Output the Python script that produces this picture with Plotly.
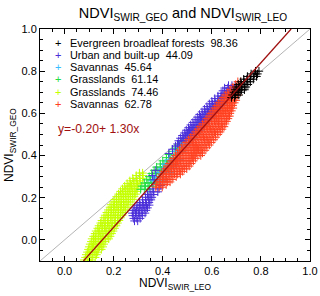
import plotly.graph_objects as go

# ---------------- data ----------------
series_names = [
    "Evergreen broadleaf forests\u00a0\u00a098.36",
    "Urban and built-up\u00a0\u00a044.09",
    "Savannas\u00a0\u00a045.64",
    "Grasslands\u00a0\u00a061.14",
    "Grasslands\u00a0\u00a074.46",
    "Savannas\u00a0\u00a062.78",
]
series_colors = ["#000000", "#4a2fd9", "#38bdff", "#22dd44", "#c4ff00", "#ff4020"]

fit_intercept = -0.20
fit_slope = 1.30

# each cloud: rows of (NDVI_GEO value, [NDVI_LEO values])
ebf_rows = [
    (0.675, [0.680, 0.693]),
    (0.687, [0.684, 0.697, 0.710]),
    (0.700, [0.690, 0.703, 0.716]),
    (0.712, [0.695, 0.708, 0.721, 0.733]),
    (0.725, [0.700, 0.713, 0.726, 0.739]),
    (0.737, [0.708, 0.721, 0.734, 0.747]),
    (0.750, [0.718, 0.731, 0.744, 0.757]),
    (0.762, [0.730, 0.743, 0.756, 0.769]),
    (0.775, [0.745, 0.758, 0.771, 0.782]),
    (0.787, [0.760, 0.773, 0.786]),
    (0.800, [0.778, 0.792]),
]

urb_rows = [
    # lower blob
    (0.090, [0.285, 0.298]),
    (0.102, [0.282, 0.295, 0.308]),
    (0.115, [0.278, 0.291, 0.304, 0.317]),
    (0.127, [0.276, 0.289, 0.302, 0.315, 0.328]),
    (0.140, [0.280, 0.293, 0.306, 0.319, 0.332]),
    (0.152, [0.286, 0.299, 0.312, 0.325, 0.338]),
    (0.165, [0.295, 0.308, 0.321, 0.334, 0.345]),
    (0.177, [0.305, 0.318, 0.331, 0.344]),
    (0.190, [0.318, 0.331, 0.344, 0.352]),
    (0.202, [0.330, 0.343, 0.356]),
    (0.215, [0.338, 0.352, 0.364]),
    (0.228, [0.348, 0.362, 0.380]),
    (0.242, [0.360, 0.385]),
    (0.258, [0.392]),
    # middle scatter
    (0.285, [0.365]),
    (0.305, [0.358]),
    (0.330, [0.372]),
    (0.410, [0.425]),
    (0.430, [0.440]),
    (0.445, [0.452, 0.468]),
    (0.455, [0.460]),
    # upper band
    (0.470, [0.465, 0.478, 0.491]),
    (0.482, [0.472, 0.485, 0.498, 0.511]),
    (0.495, [0.480, 0.493, 0.506, 0.519]),
    (0.507, [0.488, 0.501, 0.514, 0.527]),
    (0.520, [0.496, 0.509, 0.522, 0.535, 0.546]),
    (0.532, [0.505, 0.518, 0.531, 0.544, 0.555]),
    (0.545, [0.514, 0.527, 0.540, 0.553, 0.565]),
    (0.557, [0.523, 0.536, 0.549, 0.562, 0.574]),
    (0.570, [0.532, 0.545, 0.558, 0.571, 0.583]),
    (0.582, [0.541, 0.554, 0.567, 0.580, 0.593]),
    (0.595, [0.550, 0.563, 0.576, 0.589, 0.602]),
    (0.607, [0.560, 0.573, 0.586, 0.599, 0.611]),
    (0.620, [0.570, 0.583, 0.596, 0.609, 0.621]),
    (0.632, [0.580, 0.593, 0.606, 0.619, 0.630]),
    (0.645, [0.590, 0.603, 0.616, 0.629, 0.640]),
    (0.657, [0.600, 0.613, 0.626, 0.639, 0.650]),
    (0.670, [0.612, 0.625, 0.638, 0.651, 0.662]),
    (0.682, [0.625, 0.638, 0.651, 0.664]),
    (0.695, [0.638, 0.651, 0.664, 0.677]),
    (0.707, [0.645, 0.658, 0.671, 0.684]),
    (0.720, [0.652, 0.665, 0.678, 0.691]),
    (0.732, [0.668, 0.682, 0.695]),
]

sav1_rows = [
    (0.28, [0.36, 0.375, 0.39, 0.405]),
    (0.30, [0.37, 0.385, 0.40, 0.415]),
    (0.32, [0.385, 0.40, 0.415, 0.43]),
    (0.34, [0.40, 0.415, 0.43, 0.445]),
    (0.36, [0.41, 0.425, 0.44, 0.455]),
    (0.38, [0.425, 0.44, 0.455, 0.47]),
    (0.40, [0.44, 0.455, 0.47]),
    (0.42, [0.45, 0.465, 0.48]),
    (0.44, [0.465, 0.48, 0.495]),
    (0.46, [0.48, 0.495, 0.51]),
    (0.48, [0.495, 0.51, 0.525]),
    (0.50, [0.51, 0.525, 0.54]),
    (0.52, [0.525, 0.54, 0.555]),
    (0.54, [0.54, 0.555, 0.57]),
    (0.56, [0.555, 0.57, 0.585]),
    (0.58, [0.57, 0.585, 0.60]),
    (0.60, [0.585, 0.60, 0.615]),
    (0.62, [0.60, 0.615, 0.63]),
    (0.64, [0.615, 0.63, 0.645]),
    (0.66, [0.63, 0.645, 0.66]),
    (0.68, [0.645, 0.66, 0.675]),
    (0.70, [0.66, 0.675, 0.69]),
]

gl1_rows = [
    (0.240, [0.31, 0.325, 0.34]),
    (0.255, [0.315, 0.33, 0.345, 0.36]),
    (0.270, [0.325, 0.34, 0.355, 0.37]),
    (0.285, [0.335, 0.35, 0.365, 0.38]),
    (0.300, [0.345, 0.36, 0.375, 0.39]),
    (0.315, [0.355, 0.37, 0.385, 0.40]),
    (0.330, [0.365, 0.38, 0.395, 0.41]),
    (0.345, [0.375, 0.39, 0.405, 0.42]),
    (0.360, [0.39, 0.405, 0.42, 0.435]),
    (0.375, [0.40, 0.415, 0.43, 0.445]),
    (0.390, [0.415, 0.43, 0.445]),
    (0.405, [0.425, 0.44, 0.455]),
    (0.420, [0.44, 0.455, 0.47]),
    (0.435, [0.45, 0.465]),
    (0.450, [0.465, 0.48]),
    (0.465, [0.475]),
]

gl2_rows = [
    (-0.095, [0.080, 0.094, 0.108]),
    (-0.083, [0.085, 0.099, 0.113, 0.125]),
    (-0.070, [0.088, 0.102, 0.116, 0.130]),
    (-0.058, [0.093, 0.107, 0.121, 0.135]),
    (-0.045, [0.097, 0.111, 0.125, 0.139, 0.150]),
    (-0.033, [0.100, 0.114, 0.128, 0.142, 0.156]),
    (-0.020, [0.104, 0.118, 0.132, 0.146, 0.160]),
    (-0.008, [0.109, 0.123, 0.137, 0.151, 0.165]),
    (0.005, [0.112, 0.126, 0.140, 0.154, 0.168, 0.180]),
    (0.017, [0.118, 0.132, 0.146, 0.160, 0.174, 0.186]),
    (0.030, [0.124, 0.138, 0.152, 0.166, 0.180, 0.192]),
    (0.042, [0.128, 0.142, 0.156, 0.170, 0.184, 0.198]),
    (0.055, [0.135, 0.149, 0.163, 0.177, 0.191, 0.204]),
    (0.067, [0.140, 0.154, 0.168, 0.182, 0.196, 0.210]),
    (0.080, [0.147, 0.161, 0.175, 0.189, 0.203, 0.216]),
    (0.092, [0.152, 0.166, 0.180, 0.194, 0.208, 0.222]),
    (0.105, [0.160, 0.174, 0.188, 0.202, 0.216, 0.228]),
    (0.117, [0.165, 0.179, 0.193, 0.207, 0.221, 0.235]),
    (0.130, [0.172, 0.186, 0.200, 0.214, 0.228, 0.242]),
    (0.142, [0.178, 0.192, 0.206, 0.220, 0.234, 0.248]),
    (0.155, [0.185, 0.199, 0.213, 0.227, 0.241, 0.255]),
    (0.167, [0.190, 0.204, 0.218, 0.232, 0.246, 0.262]),
    (0.180, [0.198, 0.212, 0.226, 0.240, 0.254, 0.270]),
    (0.192, [0.205, 0.219, 0.233, 0.247, 0.261, 0.278]),
    (0.205, [0.212, 0.226, 0.240, 0.254, 0.268, 0.284]),
    (0.217, [0.220, 0.234, 0.248, 0.262, 0.276, 0.290]),
    (0.230, [0.228, 0.242, 0.256, 0.270, 0.284, 0.296]),
    (0.242, [0.236, 0.250, 0.264, 0.278, 0.292]),
    (0.255, [0.245, 0.259, 0.273, 0.287, 0.300]),
    (0.267, [0.255, 0.269, 0.283, 0.297, 0.308]),
    (0.280, [0.266, 0.280, 0.294, 0.308]),
    (0.292, [0.278, 0.292, 0.306, 0.318]),
    (0.305, [0.292, 0.306, 0.320]),
    (0.317, [0.305, 0.318]),
]

sav2_rows = [
    (0.250, [0.372, 0.385, 0.398]),
    (0.262, [0.375, 0.388, 0.401, 0.414]),
    (0.275, [0.380, 0.393, 0.406, 0.419, 0.430]),
    (0.287, [0.386, 0.399, 0.412, 0.425, 0.438]),
    (0.300, [0.390, 0.403, 0.416, 0.429, 0.442, 0.455]),
    (0.312, [0.396, 0.409, 0.422, 0.435, 0.448, 0.461, 0.472]),
    (0.325, [0.403, 0.416, 0.429, 0.442, 0.455, 0.468, 0.481]),
    (0.337, [0.410, 0.423, 0.436, 0.449, 0.462, 0.475, 0.488, 0.498]),
    (0.350, [0.418, 0.431, 0.444, 0.457, 0.470, 0.483, 0.496, 0.508]),
    (0.362, [0.426, 0.439, 0.452, 0.465, 0.478, 0.491, 0.504, 0.516]),
    (0.375, [0.434, 0.447, 0.460, 0.473, 0.486, 0.499, 0.512, 0.525]),
    (0.387, [0.443, 0.456, 0.469, 0.482, 0.495, 0.508, 0.521, 0.534]),
    (0.400, [0.452, 0.465, 0.478, 0.491, 0.504, 0.517, 0.530, 0.543, 0.555]),
    (0.412, [0.460, 0.473, 0.486, 0.499, 0.512, 0.525, 0.538, 0.551, 0.562]),
    (0.425, [0.468, 0.481, 0.494, 0.507, 0.520, 0.533, 0.546, 0.559, 0.572]),
    (0.437, [0.477, 0.490, 0.503, 0.516, 0.529, 0.542, 0.555, 0.568, 0.580]),
    (0.450, [0.486, 0.499, 0.512, 0.525, 0.538, 0.551, 0.564, 0.577, 0.590]),
    (0.462, [0.495, 0.508, 0.521, 0.534, 0.547, 0.560, 0.573, 0.586, 0.598]),
    (0.475, [0.505, 0.518, 0.531, 0.544, 0.557, 0.570, 0.583, 0.596, 0.608]),
    (0.487, [0.514, 0.527, 0.540, 0.553, 0.566, 0.579, 0.592, 0.605, 0.616]),
    (0.500, [0.524, 0.537, 0.550, 0.563, 0.576, 0.589, 0.602, 0.615, 0.625]),
    (0.512, [0.533, 0.546, 0.559, 0.572, 0.585, 0.598, 0.611, 0.624, 0.634]),
    (0.525, [0.543, 0.556, 0.569, 0.582, 0.595, 0.608, 0.621, 0.634, 0.642]),
    (0.537, [0.552, 0.565, 0.578, 0.591, 0.604, 0.617, 0.630, 0.643, 0.650]),
    (0.550, [0.562, 0.575, 0.588, 0.601, 0.614, 0.627, 0.640, 0.654]),
    (0.562, [0.572, 0.585, 0.598, 0.611, 0.624, 0.637, 0.650, 0.660]),
    (0.575, [0.580, 0.593, 0.606, 0.619, 0.632, 0.645, 0.658, 0.666]),
    (0.587, [0.588, 0.601, 0.614, 0.627, 0.640, 0.653, 0.666, 0.672]),
    (0.600, [0.596, 0.609, 0.622, 0.635, 0.648, 0.661, 0.674]),
    (0.612, [0.604, 0.617, 0.630, 0.643, 0.656, 0.669, 0.680]),
    (0.625, [0.612, 0.625, 0.638, 0.651, 0.664, 0.677, 0.686]),
    (0.637, [0.620, 0.633, 0.646, 0.659, 0.672, 0.685]),
    (0.650, [0.628, 0.641, 0.654, 0.667, 0.680, 0.692]),
    (0.662, [0.638, 0.651, 0.664, 0.677, 0.690, 0.698]),
    (0.675, [0.646, 0.659, 0.672, 0.685, 0.698]),
    (0.687, [0.655, 0.668, 0.681, 0.694, 0.705]),
    (0.700, [0.665, 0.678, 0.691, 0.704]),
    (0.712, [0.675, 0.688, 0.701, 0.712]),
    (0.725, [0.686, 0.699, 0.712]),
    (0.737, [0.697, 0.710, 0.720]),
    (0.750, [0.706, 0.718]),
]

axis_range = [-0.1, 1.0]
tick_vals = [0.0, 0.2, 0.4, 0.6, 0.8, 1.0]
tick_text = ["0.0", "0.2", "0.4", "0.6", "0.8", "1.0"]


def flatten(rows):
    xs, ys = [], []
    for yv, xlist in rows:
        for xv in xlist:
            xs.append(xv)
            ys.append(yv)
    return xs, ys


# ---------------- figure ----------------
FONT = "Liberation Sans, Arial, Helvetica, sans-serif"
PW, PH = 270.0, 232.0   # plot area size in px
fig = go.Figure()

# 1:1 line
fig.add_trace(go.Scatter(x=axis_range, y=axis_range, mode="lines",
                         line=dict(color="#b4b4b4", width=1), showlegend=False,
                         hoverinfo="skip"))

order = [
    (gl2_rows, 4),
    (gl1_rows, 3),
    (sav1_rows, 2),
    (urb_rows, 1),
    (sav2_rows, 5),
    (ebf_rows, 0),
]
for rows, idx in order:
    xs, ys = flatten(rows)
    fig.add_trace(go.Scatter(
        x=xs, y=ys, mode="markers", name=series_names[idx], showlegend=False,
        marker=dict(symbol="cross-thin", size=6, color=series_colors[idx],
                    line=dict(color=series_colors[idx], width=1)),
    ))

# regression line
fx0 = (axis_range[0] - fit_intercept) / fit_slope
fx1 = (axis_range[1] - fit_intercept) / fit_slope
fig.add_trace(go.Scatter(x=[fx0, fx1], y=[fit_intercept + fit_slope * fx0, fit_intercept + fit_slope * fx1],
                         mode="lines", line=dict(color="#a01010", width=1.3),
                         showlegend=False, hoverinfo="skip"))

# legend built from annotations
row_h = 12.3 / PH
for i, (nm, col) in enumerate(zip(series_names, series_colors)):
    yy = 1 - (42.5 - 29) / PH - i * row_h
    fig.add_annotation(x=(58 - 40) / PW, y=yy, xref="paper", yref="paper",
                       text="+", showarrow=False, xanchor="center", yanchor="middle",
                       font=dict(family=FONT, size=11, color=col))
    fig.add_annotation(x=(68 - 40) / PW, y=yy, xref="paper", yref="paper",
                       text=nm, showarrow=False, xanchor="left", yanchor="middle",
                       font=dict(family=FONT, size=10.9, color="black"))

eq_text = "y=%.2f+ %.2fx" % (fit_intercept, fit_slope)
fig.add_annotation(x=(56 - 40) / PW, y=1 - (129 - 29) / PH, xref="paper", yref="paper",
                   text=eq_text, showarrow=False, xanchor="left", yanchor="middle",
                   font=dict(family=FONT, size=12.2, color="#a01010"))

# axis titles
fig.add_annotation(x=0.5, y=-(284 - 261) / PH, xref="paper", yref="paper",
                   text="NDVI<sub>SWIR_LEO</sub>", showarrow=False, borderpad=0,
                   xanchor="center", yanchor="middle",
                   font=dict(family=FONT, size=12, color="black"))
fig.add_annotation(x=-(40 - 10) / PW, y=0.5, xref="paper", yref="paper",
                   text="NDVI<sub>SWIR_GEO</sub>", showarrow=False, textangle=-90,
                   xanchor="center", yanchor="middle",
                   font=dict(family=FONT, size=12, color="black"))

axis_common = dict(range=axis_range, tickvals=tick_vals, ticktext=tick_text,
                   ticks="inside", ticklen=5, tickwidth=1, tickcolor="black",
                   showline=True, linecolor="black", linewidth=1, mirror="ticks",
                   showgrid=False, zeroline=False,
                   minor=dict(ticks="inside", ticklen=3, dtick=0.05, tick0=0,
                              tickcolor="black", showgrid=False),
                   tickfont=dict(family=FONT, size=11, color="black"))

fig.update_layout(
    width=320, height=296,
    margin=dict(l=40, r=10, t=29, b=35, autoexpand=False),
    paper_bgcolor="white", plot_bgcolor="white",
    title=dict(text="NDVI<sub>SWIR_GEO</sub> and NDVI<sub>SWIR_LEO</sub>",
               x=183 / 320.0, xanchor="center", xref="container",
               y=1 - 13 / 296.0, yanchor="middle", yref="container",
               font=dict(family=FONT, size=14.5, color="black")),
    xaxis=dict(**axis_common),
    yaxis=dict(**axis_common),
    showlegend=False,
)

fig.write_html("out.html", config={"displayModeBar": False},
               post_script="document.body.style.margin='0';document.body.style.padding='0';")
